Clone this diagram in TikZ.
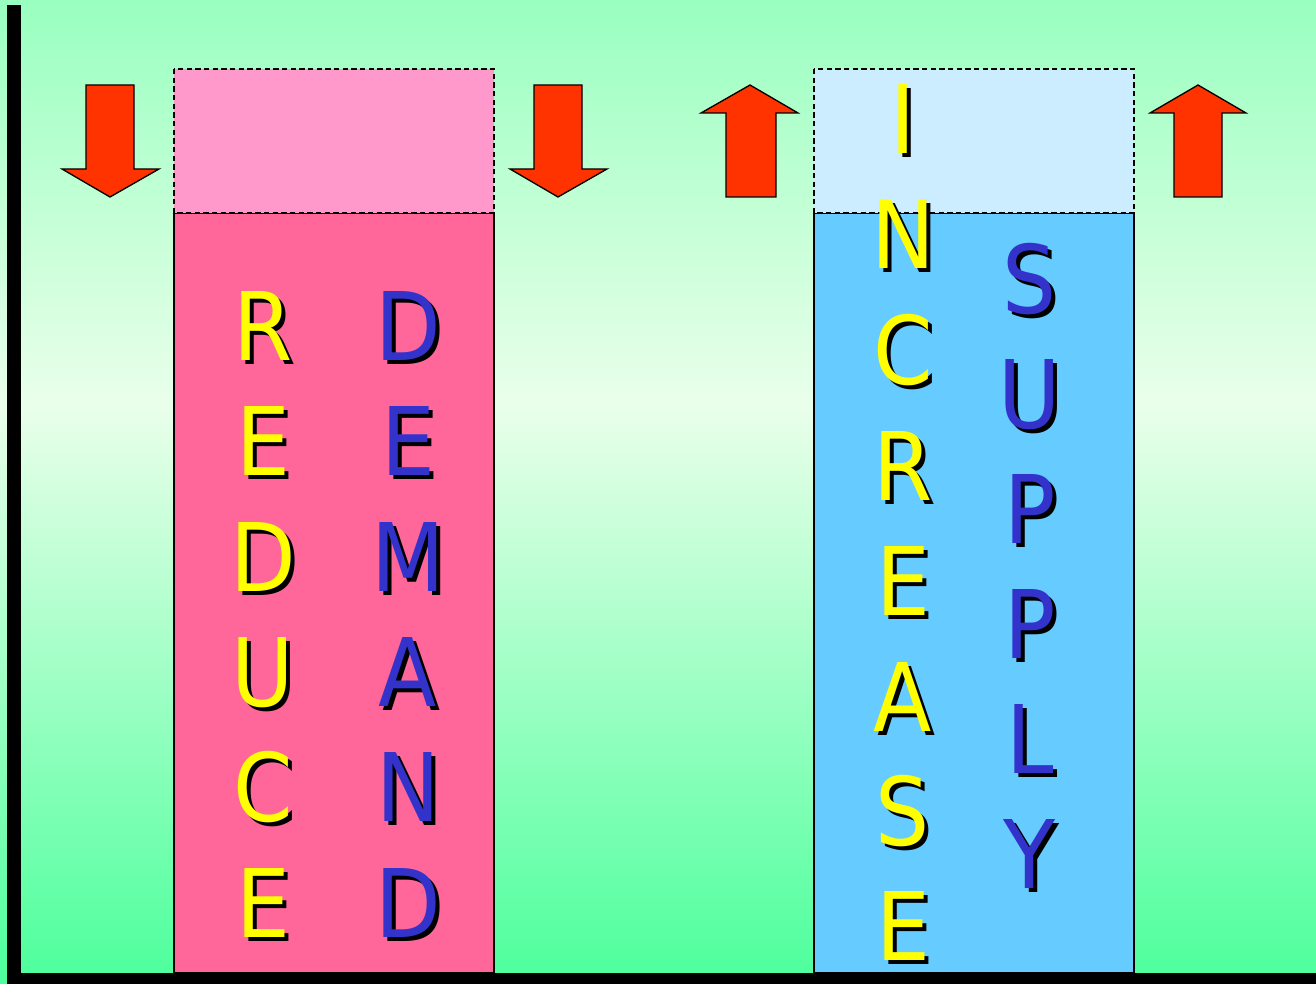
\documentclass[tikz,border=0pt]{standalone}
\usepackage{fontspec}
\setmainfont{DejaVu Sans}
\newfontfamily\letterfont[FakeStretch=0.9]{DejaVu Sans}

\definecolor{bgtop}{RGB}{153,255,192}
\definecolor{bgmid}{RGB}{234,255,234}
\definecolor{bgbot}{RGB}{76,255,156}
\definecolor{pinklight}{RGB}{255,153,204}
\definecolor{pinkdark}{RGB}{255,102,153}
\definecolor{bluelight}{RGB}{204,236,255}
\definecolor{bluedark}{RGB}{102,204,255}
\definecolor{arrowred}{RGB}{255,51,0}
\definecolor{letteryellow}{RGB}{255,255,0}
\definecolor{letterblue}{RGB}{51,51,204}

\pgfdeclareverticalshading{bgshade}{100bp}{color(0bp)=(bgbot); color(25bp)=(bgbot); color(54.5bp)=(bgmid); color(75bp)=(bgtop); color(100bp)=(bgtop)}

\newcommand{\shletter}[2]{\makebox[0pt][l]{\hspace{3pt}\raisebox{-3pt}{\color{black}#2}}{\color{#1}#2}}

\tikzset{every picture/.style={line width=0.75pt}}
\tikzset{
  letter/.style={anchor=base, inner sep=0pt, font=\letterfont\fontsize{71}{71}\selectfont},
  boxborder/.style={draw=black, line width=1pt},
  dashborder/.style={draw=black, line width=1pt, dash pattern=on 4pt off 2.5pt},
  arrowshape/.style={draw=black, fill=arrowred, line width=1pt, line join=miter},
}

\begin{document}
\begin{tikzpicture}[x=0.75pt,y=0.75pt,yscale=-1,xscale=1]
\useasboundingbox (0,0) rectangle (1316,984);

%Background
\shade[shading=bgshade] (0,0) rectangle (1316,984);

%Shape: Rectangle [pink, solid part]
\draw [boxborder, fill=pinkdark] (174,213) rectangle (494,973);
%Shape: Rectangle [pink, dashed part]
\draw [dashborder, fill=pinklight] (174,69) rectangle (494,213);
%Shape: Rectangle [blue, solid part]
\draw [boxborder, fill=bluedark] (814,213) rectangle (1134,973);
%Shape: Rectangle [blue, dashed part]
\draw [dashborder, fill=bluelight] (814,69) rectangle (1134,213);

%Shape: Down Arrow
\draw [arrowshape] (86,85) -- (134,85) -- (134,169) -- (159,169) -- (110,197) -- (62,169) -- (86,169) -- cycle ;
%Shape: Down Arrow
\draw [arrowshape] (534,85) -- (582,85) -- (582,169) -- (607,169) -- (558,197) -- (510,169) -- (534,169) -- cycle ;
%Shape: Up Arrow
\draw [arrowshape] (726,197) -- (776,197) -- (776,113) -- (798,113) -- (750,85) -- (701,113) -- (726,113) -- cycle ;
%Shape: Up Arrow
\draw [arrowshape] (1174,197) -- (1222,197) -- (1222,113) -- (1246,113) -- (1198,85) -- (1150,113) -- (1174,113) -- cycle ;

%Axes
\fill [black] (7,5) rectangle (21,984);
\fill [black] (7,973) rectangle (1316,984);

% Text Node
\node [letter] (rd1) at (263,360) {\shletter{letteryellow}{R}};
\node [letter] (rd2) at (263,475) {\shletter{letteryellow}{E}};
\node [letter] (rd3) at (263,591) {\shletter{letteryellow}{D}};
\node [letter] (rd4) at (263,706) {\shletter{letteryellow}{U}};
\node [letter] (rd5) at (263,821) {\shletter{letteryellow}{C}};
\node [letter] (rd6) at (263,937) {\shletter{letteryellow}{E}};
% Text Node
\node [letter] (dm1) at (408,360) {\shletter{letterblue}{D}};
\node [letter] (dm2) at (408,475) {\shletter{letterblue}{E}};
\node [letter] (dm3) at (408,591) {\shletter{letterblue}{M}};
\node [letter] (dm4) at (408,706) {\shletter{letterblue}{A}};
\node [letter] (dm5) at (408,821) {\shletter{letterblue}{N}};
\node [letter] (dm6) at (408,937) {\shletter{letterblue}{D}};
% Text Node
\node [letter] (inc1) at (903,154) {\shletter{letteryellow}{I}};
\node [letter] (inc2) at (903,268) {\shletter{letteryellow}{N}};
\node [letter] (inc3) at (903,384) {\shletter{letteryellow}{C}};
\node [letter] (inc4) at (903,500) {\shletter{letteryellow}{R}};
\node [letter] (inc5) at (903,615) {\shletter{letteryellow}{E}};
\node [letter] (inc6) at (903,731) {\shletter{letteryellow}{A}};
\node [letter] (inc7) at (903,845) {\shletter{letteryellow}{S}};
\node [letter] (inc8) at (903,960) {\shletter{letteryellow}{E}};
% Text Node
\node [letter] (sup1) at (1030,313) {\shletter{letterblue}{S}};
\node [letter] (sup2) at (1030,428) {\shletter{letterblue}{U}};
\node [letter] (sup3) at (1030,543) {\shletter{letterblue}{P}};
\node [letter] (sup4) at (1030,658) {\shletter{letterblue}{P}};
\node [letter] (sup5) at (1030,773) {\shletter{letterblue}{L}};
\node [letter] (sup6) at (1030,888) {\shletter{letterblue}{Y}};

\end{tikzpicture}
\end{document}
